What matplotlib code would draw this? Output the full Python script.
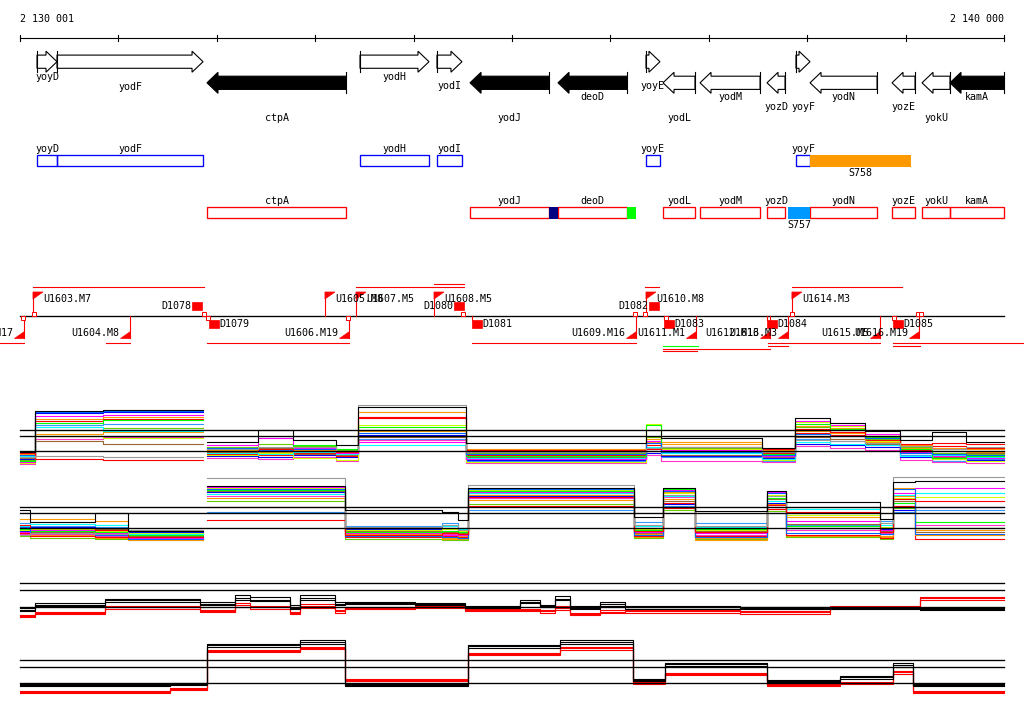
import numpy as np
import matplotlib
matplotlib.use("Agg")
import matplotlib.pyplot as plt
from matplotlib.patches import Polygon, Rectangle

plt.rcParams['font.family'] = ['DejaVu Sans Mono']
plt.rcParams['font.size'] = 7.2

nan = np.nan

# region shown (bp)
start, end = 2130001, 2140000
ruler_ticks = [2130001, 2131001, 2132001, 2133001, 2134001, 2135001,
               2136001, 2137001, 2138001, 2139001, 2140000]

# genes
gene_names  = ["yoyD", "yodF", "yodH", "yodI", "yoyE", "yoyF", "ctpA", "yodJ",
               "deoD", "yodL", "yodM", "yozD", "yodN", "yozE", "yokU", "kamA"]
gene_starts = [2130174, 2130377, 2133456, 2134238, 2136362, 2137886, 2131901, 2134574,
               2135468, 2136535, 2136911, 2137592, 2138029, 2138862, 2139167, 2139451]
gene_ends   = [2130377, 2131861, 2134157, 2134492, 2136504, 2138029, 2133314, 2135376,
               2136169, 2136860, 2137521, 2137775, 2138710, 2139096, 2139451, 2140000]
gene_strand = [1, 1, 1, 1, 1, 1, -1, -1, -1, -1, -1, -1, -1, -1, -1, -1]
gene_dark   = [0, 0, 0, 0, 0, 0, 1, 1, 1, 0, 0, 0, 0, 0, 0, 1]

# extra features on the box rows
feat_names  = ["", "", "S757", "S758"]
feat_starts = [2135376, 2136169, 2137805, 2138029]
feat_ends   = [2135467, 2136260, 2138029, 2139054]
feat_colors = ["#000080", "#00FF00", "#0099FF", "#FF9900"]
feat_strand = [-1, -1, -1, 1]

# upshifts (flags) and downshifts
up_names = ["U1603.M7", "U1605.M8", "U1607.M5", "U1608.M5", "U1610.M8", "U1614.M3"]
up_pos   = [2130133, 2133100, 2133415, 2134208, 2136362, 2137845]
down_names = ["U1602.M17", "U1604.M8", "U1606.M19", "U1609.M16", "U1611.M1",
              "U1612.M16", "U1613.M3", "U1615.M5", "U1616.M19"]
down_pos   = [2130042, 2131119, 2133344, 2136260, 2136870, 2137622, 2137805, 2138740, 2139136]

# terminators
term_names  = ["D1078", "D1079", "D1080", "D1081", "D1082", "D1083", "D1084", "D1085"]
term_pos    = [2131749, 2131921, 2134411, 2134594, 2136392, 2136545, 2137592, 2138872]
term_strand = [1, -1, 1, -1, 1, -1, -1, -1]

# small site marks on the segment line
site_pos    = [2130143, 2130031, 2131871, 2131911, 2133334, 2134502, 2136250,
               2136351, 2136565, 2137845, 2138882, 2139126, 2139156]
site_strand = [1, -1, 1, -1, -1, 1, 1, 1, -1, 1, -1, 1, 1]

# transcript spans
fwd_spans  = [(2130133, 2131871), (2133415, 2134512), (2136351, 2136494), (2137845, 2138963)]
fwd_spans2 = [(2134208, 2134512)]
rev_spans  = [(2129798, 2130042), (2130875, 2131119), (2131901, 2133344),
              (2134594, 2136260), (2137602, 2138740), (2138872, 2140203)]
rev_spans2 = [(2137602, 2137805), (2138872, 2139146)]
alt_green  = [(2136535, 2136891)]
alt_red    = [(2136535, 2137622), (2136535, 2136880)]

# ---- tiling signal, panel 1 (forward strand, many conditions)
p1_breaks = [2130001, 2130153, 2130844, 2131861, 2131901, 2132419, 2132775, 2133212, 2133436,
             2134533, 2136362, 2136515, 2137541, 2137876, 2138232, 2138588, 2138943, 2139268,
             2139614, 2140000]
p1_levels = [
    [2.3, 6.4, 6.5, nan, 3.3, 4.5, 3.5, 3.0, 6.8, 3.2, 4.5, 3.7, 2.7, 5.7, 5.2, 4.4, 3.5, 4.3, 3.3],
    [1.8, 1.9, 1.8, nan, 2.6, 2.8, 2.8, 2.4, 7.0, 2.3, 2.7, 2.8, 2.3, 3.5, 3.4, 3.2, 2.9, 2.6, 2.8],
    [2.2, 1.6, 1.5, nan, 2.4, 2.6, 2.4, 2.3, 5.8, 2.5, 2.6, 2.8, 2.6, 4.6, 4.3, 3.9, 3.1, 3.2, 3.1],
    [2.0, 6.3, 6.4, nan, 2.7, 2.5, 2.6, 2.4, 4.2, 2.1, 3.2, 2.3, 2.0, 4.1, 3.9, 3.7, 2.2, 2.1, 2.0],
    [1.4, 5.2, 5.5, nan, 2.6, 2.4, 3.0, 2.6, 4.8, 1.9, 5.0, 2.8, 2.1, 5.1, 4.6, 3.8, 2.6, 1.7, 1.9],
    [1.3, 5.9, 6.0, nan, 3.0, 3.7, 2.7, 2.2, 3.3, 1.6, 3.4, 2.5, 1.9, 5.4, 5.0, 4.1, 2.3, 1.9, 1.7],
    [1.9, 4.8, 4.4, nan, 2.2, 2.1, 2.3, 2.1, 3.0, 1.7, 2.8, 2.2, 1.6, 3.3, 3.1, 3.0, 1.9, 2.0, 1.8],
    [2.1, 4.1, 4.3, nan, 2.5, 2.3, 2.5, 2.1, 6.3, 2.4, 3.6, 3.1, 2.5, 4.4, 4.2, 3.3, 2.7, 2.4, 2.3],
    [1.2, 3.9, 3.7, nan, 2.0, 2.2, 1.7, 1.5, 5.0, 1.3, 5.1, 2.6, 1.5, 5.3, 4.9, 3.4, 2.2, 1.6, 1.4],
    [1.7, 3.4, 3.1, nan, 2.3, 2.7, 2.1, 2.0, 3.8, 1.8, 2.4, 2.0, 1.8, 3.8, 3.6, 3.1, 2.4, 1.8, 2.2],
    [2.0, 5.4, 5.6, nan, 2.1, 2.0, 2.2, 1.9, 5.7, 2.0, 3.0, 2.4, 2.2, 4.2, 4.0, 3.5, 2.5, 2.9, 2.7],
    [1.6, 6.2, 6.3, nan, 1.9, 1.8, 2.0, 1.8, 4.0, 1.5, 2.2, 1.9, 1.7, 3.1, 3.0, 2.8, 1.8, 1.6, 1.5],
    [1.5, 4.5, 4.7, nan, 2.8, 3.1, 2.9, 2.5, 4.5, 2.2, 3.8, 2.7, 2.0, 4.8, 4.5, 3.6, 2.8, 2.2, 2.1],
    [1.1, 3.6, 3.8, nan, 1.7, 1.6, 1.8, 1.4, 3.5, 1.2, 2.0, 1.4, 1.3, 2.9, 2.7, 2.5, 1.5, 1.3, 1.2],
    [1.4, 5.0, 5.1, nan, 2.4, 2.3, 2.4, 2.2, 3.6, 1.4, 2.6, 1.8, 1.4, 3.6, 3.4, 3.0, 2.0, 1.4, 1.6],
    [1.9, 5.6, 5.8, nan, 2.6, 2.6, 2.6, 2.4, 4.4, 2.6, 3.3, 3.3, 2.4, 4.9, 4.7, 3.9, 3.0, 2.7, 2.6],
]
p1_thresh = [4.5, 3.9, 2.4]

# ---- panel 2 (reverse strand)
p2_breaks = [2130001, 2130103, 2130763, 2131098, 2131861, 2131901, 2133303, 2134289, 2134452,
             2134553, 2136240, 2136535, 2136860, 2137592, 2137785, 2138740, 2138872, 2139096,
             2140000]
p2_levels = [
    [3.5, 2.3, 3.2, 1.4, nan, 5.9, 3.5, 3.3, 2.5, 5.7, 2.8, 5.7, 3.4, 5.4, 4.3, 2.6, 6.3, 6.4],
    [1.0, 1.2, 1.1, 1.5, nan, 6.7, 1.8, 2.0, 1.5, 6.0, 2.0, 5.0, 1.9, 4.9, 3.8, 2.2, 6.8, 6.8],
    [2.0, 1.7, 1.5, 0.8, nan, 2.5, 1.0, 1.2, 1.1, 4.8, 1.4, 4.2, 1.3, 4.0, 3.3, 1.3, 4.6, 4.4],
    [1.8, 1.2, 1.0, 0.6, nan, 5.6, 0.9, 0.8, 0.7, 5.6, 1.0, 5.4, 0.8, 5.2, 1.2, 1.1, 5.6, 1.1],
    [1.6, 1.4, 1.3, 1.0, nan, 5.5, 1.3, 1.4, 1.3, 5.4, 1.5, 5.6, 1.6, 4.7, 1.9, 1.7, 4.2, 2.3],
    [1.3, 1.5, 1.2, 0.7, nan, 5.8, 1.2, 1.0, 1.0, 5.3, 1.3, 5.5, 1.2, 5.3, 2.4, 1.5, 5.2, 5.7],
    [1.9, 2.1, 2.0, 1.1, nan, 5.1, 1.7, 1.9, 1.6, 5.2, 1.9, 4.9, 1.8, 4.4, 3.6, 2.0, 5.0, 5.2],
    [2.6, 2.6, 2.4, 0.5, nan, 4.7, 1.1, 0.6, 0.9, 4.5, 1.1, 4.6, 0.5, 5.3, 2.8, 0.9, 5.7, 1.0],
    [1.5, 1.6, 1.4, 1.2, nan, 5.7, 1.5, 1.6, 1.4, 5.5, 1.6, 5.2, 1.5, 5.0, 3.0, 1.8, 4.7, 4.8],
    [1.7, 1.3, 1.6, 0.9, nan, 5.4, 1.4, 1.3, 1.2, 5.2, 1.2, 4.4, 1.4, 4.6, 2.1, 1.4, 4.4, 1.3],
    [1.2, 0.9, 0.8, 0.6, nan, 3.8, 0.8, 0.9, 0.8, 3.9, 0.9, 3.7, 0.9, 3.6, 1.0, 0.7, 3.9, 0.6],
    [1.4, 1.8, 1.7, 1.3, nan, 5.3, 1.6, 1.7, 1.5, 4.9, 1.7, 4.1, 1.7, 4.2, 1.7, 1.6, 3.5, 3.8],
    [0.9, 0.7, 0.6, 0.5, nan, 4.4, 0.6, 0.5, 0.5, 4.1, 0.7, 3.5, 0.6, 3.4, 0.8, 0.6, 3.7, 1.7],
    [1.1, 1.1, 0.9, 0.8, nan, 4.9, 1.1, 1.1, 1.0, 4.7, 1.2, 4.8, 1.0, 3.8, 1.5, 1.2, 3.9, 2.0],
    [2.2, 1.9, 1.8, 1.0, nan, 3.3, 1.9, 2.2, 1.7, 3.5, 2.3, 3.9, 2.2, 3.2, 2.0, 2.4, 3.3, 3.5],
    [1.0, 1.0, 0.7, 0.7, nan, 5.3, 1.0, 0.7, 0.6, 5.0, 0.8, 5.3, 0.7, 4.1, 0.9, 0.8, 4.9, 1.5],
]
p2_thresh = [3.8, 3.2, 1.7]

trace_colors = ["black", "#999999", "#FF0000", "#0066FF", "#00FF00", "#FF00FF", "#00FFFF",
                "#FF9900", "#CCFF00", "#996633", "#FF0000", "#0000FF", "#66CC00", "#FF33CC",
                "#3399FF", "#FF9900"]

# ---- panel 3 (forward, summary black/red)
p3_breaks = [2130001, 2130153, 2130865, 2131830, 2132186, 2132338, 2132745, 2132846, 2133202,
             2133303, 2134015, 2134523, 2135082, 2135285, 2135437, 2135590, 2135895, 2136149,
             2137317, 2138232, 2139146, 2140000]
p3_levels = [
    [1.5, 2.0, 2.5, 2.1, 2.7, 2.5, 1.7, 2.7, 2.1, 2.2, 2.1, 1.8, 2.3, 1.9, 2.6, 1.7, 2.1, 1.8, 1.7, 1.7, 1.6],
    [1.7, 2.2, 2.6, 2.3, 3.0, 2.8, 2.0, 3.0, 2.3, 2.3, 2.2, 1.9, 2.5, 2.0, 2.9, 1.9, 2.3, 1.9, 1.8, 1.8, 1.7],
    [1.4, 1.9, 2.3, 2.0, 2.5, 2.4, 1.6, 2.5, 2.0, 2.1, 2.0, 1.7, 2.2, 1.8, 2.5, 1.6, 1.9, 1.6, 1.6, 1.6, 1.5],
    [0.9, 1.2, 1.8, 1.4, 2.0, 1.8, 1.2, 1.9, 1.4, 1.7, 1.8, 1.5, 1.5, 1.4, 1.7, 1.1, 1.3, 1.4, 1.3, 1.8, 2.7],
    [1.0, 1.3, 1.9, 1.5, 2.2, 1.9, 1.3, 2.1, 1.5, 1.8, 1.9, 1.6, 1.6, 1.5, 1.9, 1.2, 1.5, 1.5, 1.4, 1.9, 2.8],
    [0.8, 1.1, 1.6, 1.3, 1.8, 1.6, 1.1, 1.7, 1.2, 1.6, 1.7, 1.4, 1.4, 1.2, 1.5, 1.0, 1.2, 1.2, 1.1, 1.7, 2.5],
]
p3_thresh = [4.2, 3.5, 1.8]

# ---- panel 4 (reverse, summary black/red)
p4_breaks = [2130001, 2131525, 2131901, 2132846, 2133303, 2134553, 2135488, 2136230,
             2136555, 2137592, 2138334, 2138872, 2139075, 2140000]
p4_levels = [
    [1.6, 1.7, 5.5, 5.8, 1.5, 5.4, 5.8, 2.0, 3.6, 1.9, 2.3, 3.5, 1.5],
    [1.5, 1.6, 5.3, 5.6, 1.4, 5.2, 5.6, 1.9, 3.4, 1.8, 2.1, 3.3, 1.4],
    [1.4, 1.5, 5.6, 6.0, 1.6, 5.5, 6.0, 2.1, 3.7, 2.0, 2.4, 3.7, 1.6],
    [0.8, 1.1, 5.0, 5.3, 2.1, 4.6, 5.2, 1.8, 2.6, 1.5, 1.7, 2.8, 0.8],
    [0.9, 1.2, 4.8, 5.1, 2.0, 4.5, 5.0, 1.7, 2.5, 1.4, 1.6, 2.6, 0.9],
    [0.7, 1.0, 4.9, 5.2, 1.9, 4.7, 5.3, 1.6, 2.7, 1.6, 1.8, 2.9, 0.7],
]
p4_thresh = [4.0, 3.3, 1.7]
summary_colors = ["black", "black", "black", "#FF0000", "#FF0000", "#FF0000"]

# ------------------------------------------------------------------
W, H = 1024, 714
bp_px = (end - start) / 984.0
xlim = (start - 20 * bp_px, end + 20 * bp_px)
lw = 0.8

fig = plt.figure(figsize=(W / 100, H / 100), dpi=100)
ax = fig.add_axes([0, 0, 1, 1])
ax.set_xlim(xlim)
ax.set_ylim(H, 0)   # track layout in rows from the top
ax.axis("off")

# ruler
ax.plot([start, end], [38, 38], color="k", lw=lw)
for t in ruler_ticks:
    ax.plot([t, t], [35, 41], color="k", lw=lw)
ax.text(start, 19, "2 130 001", ha="left", va="center")
ax.text(end, 19, "2 140 000", ha="right", va="center")

# gene arrows
label_rows = [77, 87, 77, 86, 86, 107, 118, 118, 97, 118, 97, 107, 97, 107, 118, 97]
head = 11 * bp_px
for name, s, e, st, dk, ly in zip(gene_names, gene_starts, gene_ends, gene_strand, gene_dark, label_rows):
    yc = 61.7 if st > 0 else 82.8
    hb, hh = 6.6, 10.5
    hl = min(head, e - s)
    if st > 0:
        nk = e - hl
        pts = [(s, yc - hb), (nk, yc - hb), (nk, yc - hh), (e, yc), (nk, yc + hh), (nk, yc + hb), (s, yc + hb)]
        bar = s
    else:
        nk = s + hl
        pts = [(e, yc - hb), (nk, yc - hb), (nk, yc - hh), (s, yc), (nk, yc + hh), (nk, yc + hb), (e, yc + hb)]
        bar = e
    ax.add_patch(Polygon(pts, closed=True, fc="k" if dk else "w", ec="k", lw=lw, zorder=3))
    ax.plot([bar, bar], [yc - hh, yc + hh], color="k", lw=lw, zorder=3)
    ax.text((s + e) / 2, ly, name, ha="center", va="center")

# gene boxes, blue = forward row, red = reverse row
for name, s, e, st in zip(gene_names, gene_starts, gene_ends, gene_strand):
    y0, col, ly = (155, "#0000FF", 149) if st > 0 else (207, "#FF0000", 201)
    ax.add_patch(Rectangle((s, y0), e - s, 11, fc="none", ec=col, lw=lw * 1.2))
    ax.text((s + e) / 2, ly, name, ha="center", va="center")
for name, s, e, c, st in zip(feat_names, feat_starts, feat_ends, feat_colors, feat_strand):
    y0 = 155 if st > 0 else 207
    ax.add_patch(Rectangle((s, y0), e - s, 11.5, fc=c, ec="none", zorder=2))
    if name:
        ax.text((s + e) / 2, y0 + 18, name, ha="center", va="center")

# segmentation track
red = "#FF0000"
ax.plot([start, end], [316, 316], color="k", lw=lw * 1.2, zorder=2)
for spans, y in [(fwd_spans, 287), (fwd_spans2, 284), (rev_spans, 343), (rev_spans2, 346)]:
    for s, e in spans:
        ax.plot([s, e], [y, y], color=red, lw=lw)
for s, e in alt_green:
    ax.plot([s, e], [346, 346], color="#00FF00", lw=lw)
for (s, e), y in zip(alt_red, [348.5, 351]):
    ax.plot([s, e], [y, y], color=red, lw=lw)

fw = 10 * bp_px
for name, p in zip(up_names, up_pos):
    ax.plot([p, p], [316, 292], color=red, lw=lw)
    ax.add_patch(Polygon([(p, 292), (p + fw, 292), (p, 299)], closed=True, fc=red, ec=red, lw=0.5))
    ax.annotate(name, (p, 299), xytext=(7.2, 0), textcoords="offset points", ha="left", va="center")
for name, p in zip(down_names, down_pos):
    ax.plot([p, p], [316, 338], color=red, lw=lw)
    ax.add_patch(Polygon([(p, 331), (p, 338), (p - fw, 338)], closed=True, fc=red, ec=red, lw=0.5))
    ax.annotate(name, (p, 333), xytext=(-8, 0), textcoords="offset points", ha="right", va="center")

for name, p, st in zip(term_names, term_pos, term_strand):
    if st > 0:
        ax.add_patch(Rectangle((p, 302), fw, 8, fc=red, ec=red, lw=0.5))
        ax.annotate(name, (p, 306), xytext=(-0.7, 0), textcoords="offset points", ha="right", va="center")
    else:
        ax.plot([p, p], [316, 320], color=red, lw=lw)
        ax.add_patch(Rectangle((p, 320), fw, 8, fc=red, ec=red, lw=0.5))
        ax.annotate(name, (p + fw, 324), xytext=(0.3, 0), textcoords="offset points", ha="left", va="center")

sq = 3.5 * bp_px
for p, st in zip(site_pos, site_strand):
    y0 = 312 if st > 0 else 316
    ax.add_patch(Rectangle((p - sq / 2, y0), sq, 4, fc="w", ec=red, lw=0.7, zorder=4))


# signal panels
def panel(top, bottom, breaks, levels, colors, thresh):
    a = fig.add_axes([0, 1 - bottom / H, 1, (bottom - top) / H])
    a.set_xlim(xlim)
    a.set_ylim(0, (bottom - top) / 10.0)
    a.axis("off")
    n = len(levels)
    for i in range(n - 1, -1, -1):
        lv = list(levels[i])
        a.plot(breaks, lv + [lv[-1]], drawstyle="steps-post", color=colors[i], lw=lw, zorder=2 + (n - i) * 0.01)
    for t in thresh:
        a.plot([start, end], [t, t], color="k", lw=lw * 1.2, zorder=5)
    return a


panel(400, 475, p1_breaks, p1_levels, trace_colors, p1_thresh)
panel(470, 545, p2_breaks, p2_levels, trace_colors, p2_thresh)
panel(575, 625, p3_breaks, p3_levels, summary_colors, p3_thresh)
panel(630, 700, p4_breaks, p4_levels, summary_colors, p4_thresh)

fig.savefig("out.png", dpi=100)
